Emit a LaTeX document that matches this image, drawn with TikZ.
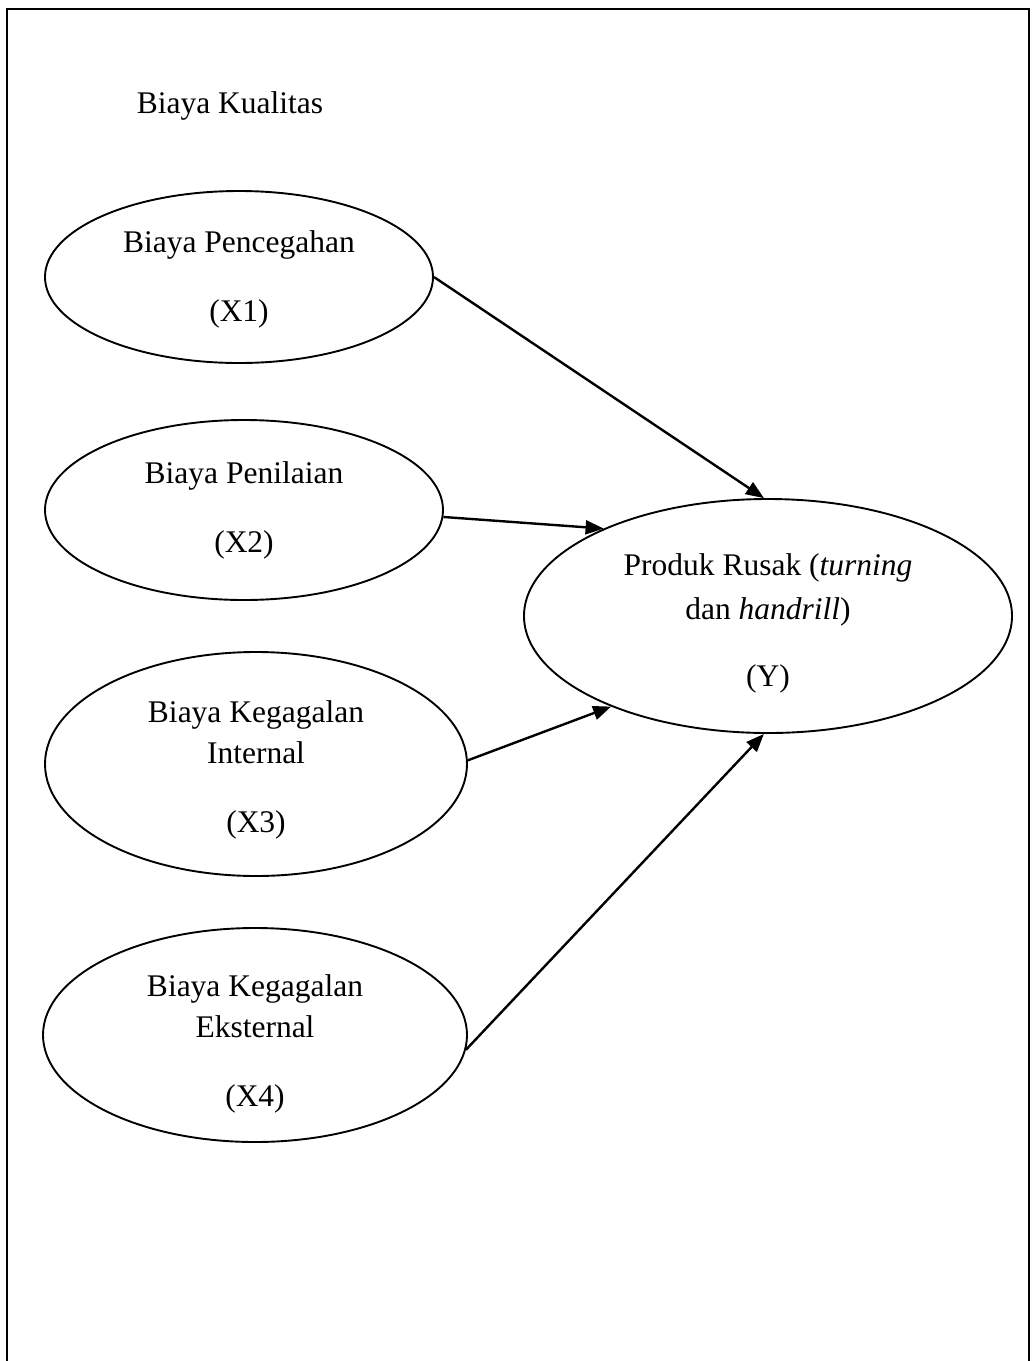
\documentclass[tikz,border=0pt]{standalone}
\usepackage{fontspec}
\setmainfont{Liberation Serif}
\usetikzlibrary{shapes.geometric,arrows.meta}
\begin{document}
\begin{tikzpicture}[x=1pt,y=-1pt,
  oval/.style={draw, ellipse, line width=1.9pt, inner sep=0pt},
  txt/.style={align=center, inner sep=0pt, font=\fontsize{31.5}{41}\selectfont},
  link/.style={line width=2.4pt, -{Triangle[length=18pt,width=14pt]}},
  lbl/.style={font=\fontsize{31.5}{41}\selectfont, inner sep=0pt}]
\useasboundingbox (0,0) rectangle (1033,1361);
\draw[line width=2.2pt] (7,1361) -- (7,9) -- (1029,9) -- (1029,1361);
\node[lbl] (title) at (230,106) {Biaya Kualitas};
\node[oval, minimum width=388pt, minimum height=172pt] (e1) at (239,277) {};
\node[oval, minimum width=398pt, minimum height=180pt] (e2) at (244,510) {};
\node[oval, minimum width=422pt, minimum height=224pt] (e3) at (256,764) {};
\node[oval, minimum width=424pt, minimum height=214pt] (e4) at (255,1035) {};
\node[oval, minimum width=488pt, minimum height=234pt] (y) at (768,616) {};
\node[txt] (t1) at ([yshift=-2.5pt]e1.center) {Biaya Pencegahan\\[28pt](X1)};
\node[txt] (t2) at (e2.center) {Biaya Penilaian\\[28pt](X2)};
\node[txt] (t3) at ([yshift=-6pt]e3.center) {Biaya Kegagalan\\Internal\\[28pt](X3)};
\node[txt] (t4) at ([yshift=-9pt]e4.center) {Biaya Kegagalan\\Eksternal\\[28pt](X4)};
\node[txt] (ty) at ([yshift=-7pt]y.center) {Produk Rusak (\textit{turning}\\[3pt]dan \textit{handrill})\\[26pt](Y)};
\draw[link] (e1.east) -- (y.92);
\draw[link] (e2.-2) -- (y.152.6);
\draw[link] (e3.1) -- (y.210.7);
\draw[link] (e4.-4) -- (y.268.5);
\end{tikzpicture}
\end{document}
